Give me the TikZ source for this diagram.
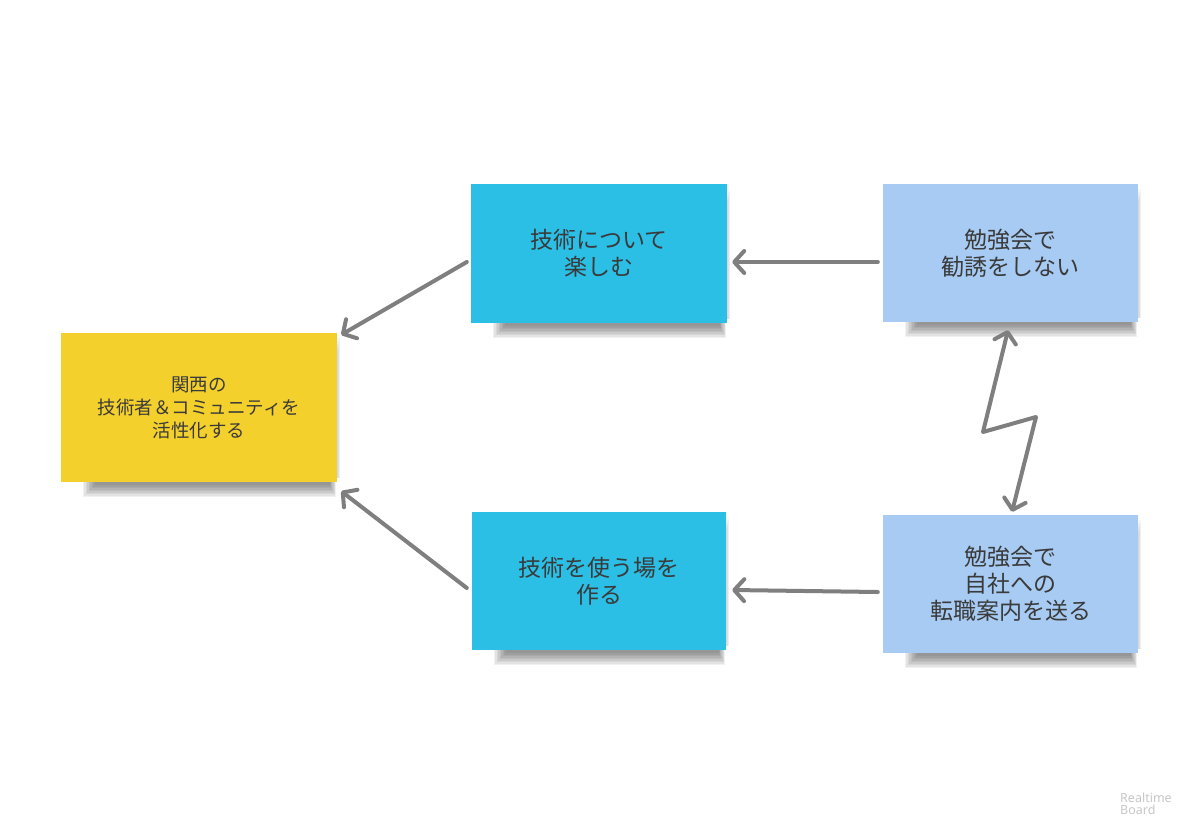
\documentclass[tikz,border=0pt]{standalone}
\usepackage{fontspec}
\setmainfont{Noto Sans CJK JP}
\newfontfamily\wmfont{Noto Sans}
\usetikzlibrary{arrows.meta,backgrounds}
\definecolor{stickyyellow}{HTML}{F4D02C}
\definecolor{stickyblue}{HTML}{2BBFE6}
\definecolor{stickylight}{HTML}{A7CBF2}
\definecolor{conngray}{HTML}{7F7F7F}
\definecolor{txtgray}{HTML}{3A3A3A}
\newcommand{\mystickyshadow}[1]{%
  \foreach \i in {0,...,8}{%
    \fill[black, opacity=0.055]
      ([shift={({22+1.5*\i},-10)}]#1.south west) rectangle
      ([shift={({-1-0.8*\i},{15-1.5*\i})}]#1.south east);
  }%
  \foreach \i in {0,...,4}{%
    \fill[black, opacity=0.03]
      ([shift={(0,{5+3*\i})}]#1.north east) rectangle
      ([shift={({3-0.5*\i},-4)}]#1.south east);
  }%
}
\begin{document}
\begin{tikzpicture}[x=1pt,y=-1pt,
  sticky/.style={rectangle, inner sep=0pt, align=center, text=txtgray},
  bigtext/.style={font=\fontsize{23}{27}\selectfont},
  smalltext/.style={font=\fontsize{18.5}{23}\selectfont},
  conn/.style={draw=conngray, line width=4pt, line cap=round, line join=round,
    -{Straight Barb[length=10pt,width=22pt,round]}},
  zconn/.style={draw=conngray, line width=4pt, line cap=round, line join=round,
    {Straight Barb[length=10pt,width=22pt,round]}-{Straight Barb[length=10pt,width=22pt,round]}}
]
\useasboundingbox (0,0) rectangle (1196,835);

\node[sticky, smalltext, fill=stickyyellow, minimum width=276pt, minimum height=149pt]
  (y) at (199,407.5) {関西の\\技術者＆コミュニティを\\活性化する};
\node[sticky, bigtext, fill=stickyblue, minimum width=256pt, minimum height=139pt]
  (b1) at (599,253.5) {技術について\\楽しむ};
\node[sticky, bigtext, fill=stickylight, minimum width=255pt, minimum height=138pt]
  (lt) at (1010.5,253) {勉強会で\\勧誘をしない};
\node[sticky, bigtext, fill=stickyblue, minimum width=254pt, minimum height=138pt]
  (b2) at (599,581) {技術を使う場を\\作る};
\node[sticky, bigtext, fill=stickylight, minimum width=255pt, minimum height=138pt]
  (lb) at (1010.5,584) {勉強会で\\自社への\\転職案内を送る};

\begin{scope}[on background layer]
  \fill[white] (0,0) rectangle (1196,835);
  \mystickyshadow{y}
  \mystickyshadow{b1}
  \mystickyshadow{lt}
  \mystickyshadow{b2}
  \mystickyshadow{lb}
\end{scope}

\draw[conn] ([shift={(-4,8.5)}]b1.west) -- ([shift={(4,2)}]y.north east);
\draw[conn] ([shift={(-5,7)}]b2.west) -- ([shift={(4,9)}]y.south east);
\draw[conn] ([shift={(-5,9)}]lt.west) -- ([shift={(5,8.5)}]b1.east);
\draw[conn] ([shift={(-5,8)}]lb.west) -- ([shift={(6,9)}]b2.east);

\coordinate (z1) at (983,432);
\coordinate (z2) at (1036,417);
\draw[zconn] ([shift={(-2.5,8)}]lt.south) -- (z1) -- (z2) -- ([shift={(1.5,-3)}]lb.north);

\node[anchor=north west, inner sep=0pt, align=left, text=black!22,
  font=\wmfont\bfseries\fontsize{12.5}{12}\selectfont] (wm) at (1120,793) {Realtime\\Board};
\end{tikzpicture}
\end{document}
